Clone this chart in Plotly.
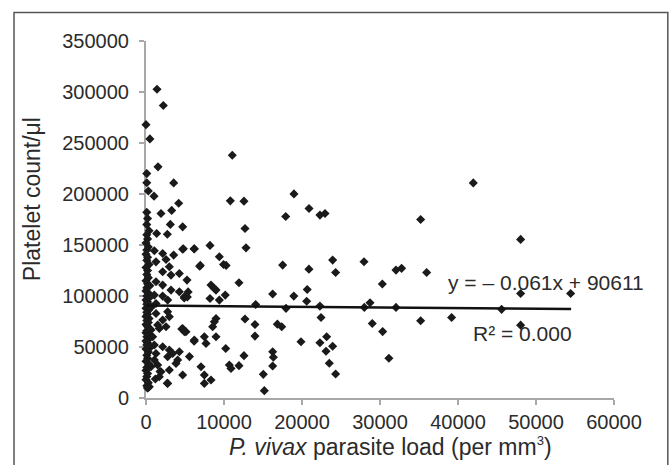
import plotly.graph_objects as go

# Estimated data (parasite load per mm^3, platelet count/ul)
parasite_load = [
    # dense column near zero
    0, 500, 100, 100, 300, 100, 200, 100, 400, 100, 200, 0, 300, 100, 0, 200, 100, 400, 0, 200,
    100, 300, 0, 200, 500, 100, 0, 300, 100, 400, 0, 200, 100, 500, 0, 300, 100, 200, 0, 400,
    100, 300, 0, 200, 500, 100, 0, 300, 100, 400, 0, 200, 100, 600, 0, 300, 100, 200, 0, 400,
    100, 0, 200, 100, 0, 300, 100, 200,
    # low-load points
    1410, 2220, 1540, 3550, 1030, 4190, 1920, 3290, 3120, 4700,
    1368, 2735, 4786, 1068, 2137, 3547, 1282, 2564, 2991, 4274, 2137, 3205, 5256, 1282, 2137,
    3205, 4274, 4914, 1068, 2137, 2778, 1282, 641, 1282, 2778, 2991, 2137, 1496, 641, 1709,
    2564, 4700, 5128, 855, 1068, 2137, 1282, 2991, 3419, 4274, 2778, 1068, 1496, 4060, 3846,
    641, 1923, 2991, 1709, 4700, 2778, 427, 5400, 4900, 5300, 4590, 4920, 5570, 2730, 1800, 1200,
    # mid-load points
    11060, 10810, 12560, 18970, 20900, 22300, 22950, 17910, 6196, 8205, 9402, 9940, 10270, 6966,
    8333, 8761, 8974, 10160, 8205, 9402, 8974, 8761, 8547, 6196, 7479, 8974, 7692, 10220, 7051,
    7479, 8333, 7479, 10683, 10897, 6880, 6170, 4700,
    12692, 12820, 11920, 14060, 16240, 17520, 18950, 20890, 20670, 20600, 17950, 22300, 23930,
    24310, 22440, 12690, 13970, 13970, 16840, 17400, 19870, 22300, 23160, 23930, 23080, 12560,
    11920, 16240, 16330, 16240, 15040, 15170, 23500, 24310, 6170, 220,
    # high-load points
    41960, 35210, 48030, 27950, 30300, 32050, 32770, 35980, 48030, 54440, 27990, 28720, 32050,
    45590, 29010, 30340, 35210, 39180, 48030, 31140,
]
platelet_count = [
    268000, 254000, 220000, 211000, 203000, 182000, 176000, 170000, 164000, 160000, 156000,
    152000, 148000, 145000, 141000, 138000, 135000, 131000, 128000, 125000,
    121000, 118000, 115000, 112000, 110000, 108000, 105000, 103000, 100000, 98000, 96000,
    94000, 92000, 90000, 88000, 86000, 84000, 82000, 80000, 78000,
    76000, 74000, 72000, 70000, 68000, 66000, 64000, 62000, 60000, 58000, 56000, 54000,
    52000, 50000, 48000, 45000, 42000, 39000, 36000, 33000,
    30000, 27000, 24000, 21000, 18000, 15000, 12000, 9800,
    302700, 286700, 226600, 210900, 197900, 191000, 180900, 183900, 170200, 167800,
    161300, 160600, 146300, 144300, 141700, 140100, 133500, 135800, 128700, 122100, 123800,
    120500, 115600, 114000, 110700,
    105800, 104200, 99300, 100900, 99900, 96000, 92700, 88800, 82900, 84600, 79700, 76400,
    71500, 66600, 68200,
    69870, 68200, 65000, 60070, 51900, 50280, 43700, 47000, 43700, 45400, 40470, 37200,
    32300, 37200, 33930,
    30660, 25760, 27400, 20860, 22500, 14330, 11060, 104000, 98000, 99000, 67700, 65100,
    40600, 14400, 26000, 18600,
    238000, 193300, 193000, 200100, 185800, 179300, 180900, 178000, 146300, 149600, 138500,
    130900, 130000, 130000,
    110700, 107400, 105800, 100900, 97600, 96000, 78000, 74800, 69870, 56800, 60070, 60070,
    53550, 48600, 30660,
    22500, 17600, 14330, 32300, 29000, 129200, 146200, 145900,
    166200, 147200, 113000, 91700, 101900, 130300, 99900, 126300, 106400, 94800, 87900,
    90100, 135200,
    123000, 78900, 77400, 72100, 60700, 72400, 69800, 55200, 54200, 60000, 50800, 45800,
    41500,
    31700, 45400, 39900, 31400, 23200, 7200, 34100, 23500, 55600, 9800,
    210900, 175000, 155500, 133600, 111700, 125400, 127100, 123100, 102500, 102500, 88800,
    93400, 88800,
    86900, 73100, 65100, 75700, 78900, 71400, 38900,
]

slope = -0.061
intercept = 90611
trend_x = [0, 54500]
trend_y = [slope * v + intercept for v in trend_x]

x_ticks = [0, 10000, 20000, 30000, 40000, 50000, 60000]
x_tick_text = ["0", "10000", "20000", "30000", "40000", "50000", "60000"]
y_ticks = [0, 50000, 100000, 150000, 200000, 250000, 300000, 350000]
y_tick_text = ["0", "50000", "100000", "150000", "200000", "250000", "300000", "350000"]

FONT = "Liberation Sans, Arial, sans-serif"
TXT = "#2b2b2b"
AXC = "#a8a8a8"

fig = go.Figure()
fig.add_trace(go.Scatter(
    x=parasite_load, y=platelet_count, mode="markers",
    marker=dict(symbol="diamond", size=7, color="#1a1a1a"),
    cliponaxis=False, showlegend=False,
))
fig.add_trace(go.Scatter(
    x=trend_x, y=trend_y, mode="lines",
    line=dict(color="#111111", width=2.5), showlegend=False,
))

fig.update_layout(
    width=671, height=465,
    margin=dict(l=146, r=57, t=41, b=67),
    paper_bgcolor="white", plot_bgcolor="white",
    font=dict(family=FONT, color=TXT),
    xaxis=dict(
        range=[0, 60000], tickvals=x_ticks, ticktext=x_tick_text,
        showgrid=False, zeroline=False, showline=True, linecolor=AXC, linewidth=2,
        ticks="outside", ticklen=5, tickcolor=AXC, tickwidth=2,
        tickfont=dict(size=20, color=TXT, family=FONT), layer="below traces",
    ),
    yaxis=dict(
        range=[0, 350000], tickvals=y_ticks, ticktext=y_tick_text,
        showgrid=False, zeroline=False, showline=True, linecolor=AXC, linewidth=2,
        ticks="outside", ticklen=5, tickcolor=AXC, tickwidth=2,
        tickfont=dict(size=20, color=TXT, family=FONT), layer="below traces",
        ticklabelstandoff=6,
    ),
    shapes=[dict(
        type="rect", xref="paper", yref="paper",
        x0=-0.282, x1=1.115, y0=-0.3, y1=1.080,
        line=dict(color="#555555", width=1.5),
    )],
    annotations=[
        dict(text="Platelet count/μl", xref="paper", yref="paper", x=-0.2436, y=0.557,
             textangle=-90, showarrow=False, xanchor="center", yanchor="middle",
             font=dict(size=23, color=TXT, family=FONT)),
        dict(text="<i>P. vivax</i> parasite load (per mm<sup><span style='font-size:13px'>3</span></sup>)",
             xref="paper", yref="paper",
             x=0.5235, y=-0.137, showarrow=False, xanchor="center", yanchor="middle",
             font=dict(size=23, color=TXT, family=FONT)),
        dict(text="y = – 0.061x + 90611", xref="paper", yref="paper", x=0.855, y=0.3227,
             showarrow=False, xanchor="center", yanchor="middle",
             font=dict(size=21, color=TXT, family=FONT)),
        dict(text="R² = 0.000", xref="paper", yref="paper", x=0.8045, y=0.182,
             showarrow=False, xanchor="center", yanchor="middle",
             font=dict(size=21, color=TXT, family=FONT)),
    ],
)

fig.write_html("out.html", config={"displayModeBar": False})

# remove the default page margin so the figure fills the window exactly
with open("out.html", "r", encoding="utf-8") as fh:
    page = fh.read()
page = page.replace("<body>", "<body style=\"margin:0;overflow:hidden\">", 1)
with open("out.html", "w", encoding="utf-8") as fh:
    fh.write(page)
